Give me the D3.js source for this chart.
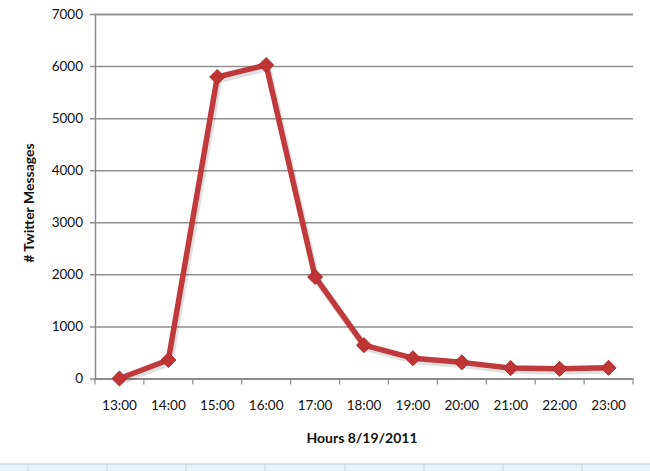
<!DOCTYPE html>
<html><head><meta charset="utf-8">
<script src="https://cdn.jsdelivr.net/npm/d3@7"></script>
<style>body{margin:0;background:#fff;font-family:Lato,"Open Sans",sans-serif;}</style>
</head><body><svg id="c" width="650" height="471"></svg>
<script>
const hours = ["13:00","14:00","15:00","16:00","17:00","18:00","19:00","20:00","21:00","22:00","23:00"];
const messages = [0, 355, 5790, 6020, 1950, 640, 390, 310, 200, 185, 205];
const yTicks = [0,1000,2000,3000,4000,5000,6000,7000];
const xTitle = "Hours 8/19/2011";
const yTitle = "# Twitter Messages";

const svg = d3.select("#c");
const L = 95, R = 633, T = 14, B = 378.5;
const x = d3.scaleBand().domain(hours).range([L, R]);
const y = d3.scaleLinear().domain([0, 7000]).range([B, T]);

// bottom frame strip
svg.append("rect").attr("x",0).attr("y",464).attr("width",650).attr("height",7).attr("fill","#e9f3f9");
svg.append("line").attr("x1",0).attr("x2",650).attr("y1",464).attr("y2",464).attr("stroke","#b8c4cc").attr("stroke-width",1);
[28,107,186,265,345,424,503,582].forEach(px=>svg.append("line").attr("x1",px).attr("x2",px).attr("y1",465).attr("y2",471).attr("stroke","#c9d3da"));

// gridlines
const yAxis = d3.axisLeft(y).tickValues(yTicks).tickSize(-(R - L)).tickPadding(12).tickFormat(d3.format("d"));
const gy = svg.append("g").attr("transform",`translate(${L},0)`).call(yAxis);
gy.select(".domain").attr("stroke","#8a8a8a").attr("stroke-width",1.5);
gy.selectAll(".tick line").attr("stroke","#8f8f8f").attr("stroke-width",1.5).attr("x1",-5);
gy.selectAll(".tick text").attr("font-size",13.5).attr("fill","#111").attr("font-family","Lato, 'Open Sans', sans-serif");

// x axis
const xAxis = d3.axisBottom(x).tickSize(0).tickPadding(22);
const gx = svg.append("g").attr("transform",`translate(0,${B})`).call(xAxis);
gx.select(".domain").attr("stroke","#8a8a8a").attr("stroke-width",1.5);
gx.selectAll(".tick text").attr("font-size",13.5).attr("fill","#111").attr("font-family","Lato, 'Open Sans', sans-serif");
const bounds = hours.map(h => x(h)).concat([R]);
gx.selectAll(".bt").data(bounds).enter().append("line").attr("class","bt")
  .attr("x1",d=>d).attr("x2",d=>d).attr("y1",0).attr("y2",6).attr("stroke","#8a8a8a").attr("stroke-width",1.2);

// line
const cx = d => x(d.h) + x.bandwidth()/2;
const data = hours.map((h,i)=>({h, v: messages[i]}));
const line = d3.line().x(cx).y(d=>y(d.v));
// soft shadow
svg.append("path").datum(data).attr("d",line).attr("fill","none").attr("stroke","#000").attr("stroke-opacity",0.12)
  .attr("stroke-width",7).attr("transform","translate(1.5,2.5)").attr("stroke-linejoin","round");
svg.append("path").datum(data).attr("d",line).attr("fill","none").attr("stroke","#c0393b")
  .attr("stroke-width",5.5).attr("stroke-linejoin","round");
const diamond = d3.symbol().type(d3.symbolDiamond2).size(145);
svg.selectAll(".mk").data(data).enter().append("path").attr("class","mk")
  .attr("d",diamond).attr("transform",d=>`translate(${cx(d)},${y(d.v)})`)
  .attr("fill","#bf3434").attr("stroke","#b02c2c").attr("stroke-width",1);

// titles
svg.append("text").attr("x",(L+R)/2 - 2).attr("y",443).attr("text-anchor","middle")
  .attr("font-size",14).attr("font-weight","bold").attr("fill","#111").text(xTitle);
svg.append("text").attr("transform","translate(34,203) rotate(-90)").attr("text-anchor","middle")
  .attr("font-size",14).attr("font-weight","bold").attr("fill","#111").text(yTitle);
</script></body></html>
